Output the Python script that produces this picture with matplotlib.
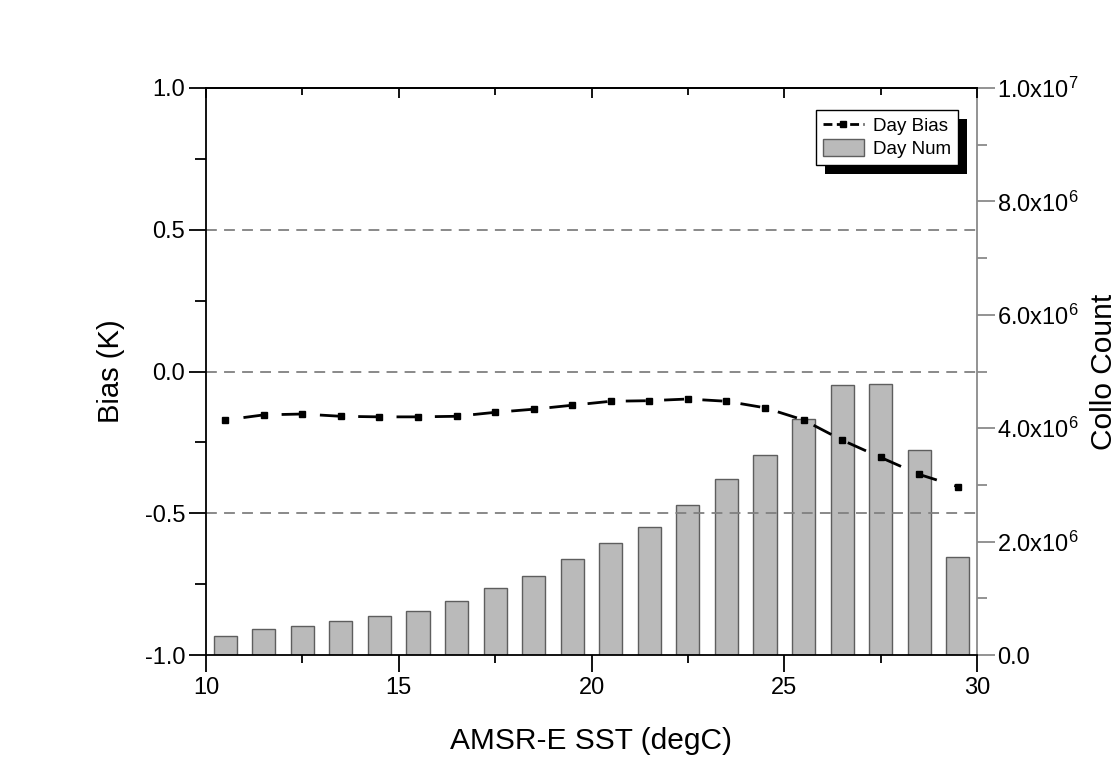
import matplotlib
matplotlib.use('Agg')
import matplotlib.pyplot as plt
from matplotlib.ticker import MultipleLocator, FuncFormatter
from matplotlib.patches import Rectangle
from matplotlib.lines import Line2D

# ---- data ----
sst = [10.5, 11.5, 12.5, 13.5, 14.5, 15.5, 16.5, 17.5, 18.5, 19.5,
       20.5, 21.5, 22.5, 23.5, 24.5, 25.5, 26.5, 27.5, 28.5, 29.5]
day_bias = [-0.171, -0.153, -0.150, -0.158, -0.160, -0.160, -0.158, -0.144, -0.133, -0.119,
            -0.105, -0.103, -0.097, -0.105, -0.128, -0.171, -0.242, -0.303, -0.363, -0.406]
day_num = [0.34e6, 0.45e6, 0.52e6, 0.60e6, 0.69e6, 0.78e6, 0.96e6, 1.18e6, 1.40e6, 1.69e6,
           1.98e6, 2.26e6, 2.64e6, 3.10e6, 3.52e6, 4.16e6, 4.76e6, 4.78e6, 3.61e6, 1.73e6]
x_ticks = [10, 15, 20, 25, 30]
bias_ticks = [-1.0, -0.5, 0.0, 0.5, 1.0]
count_ticks = [0, 2e6, 4e6, 6e6, 8e6, 1e7]
grid_levels = [0.5, 0.0, -0.5]

plt.rcParams['font.family'] = ['Liberation Sans', 'DejaVu Sans']
plt.rcParams['mathtext.fontset'] = 'custom'
plt.rcParams['mathtext.rm'] = 'Liberation Sans'
plt.rcParams['mathtext.it'] = 'Liberation Sans:italic'
plt.rcParams['mathtext.bf'] = 'Liberation Sans:bold'
plt.rcParams['axes.unicode_minus'] = False

W, H = 1117, 779
fig = plt.figure(figsize=(W / 100, H / 100), dpi=100)
ax1 = fig.add_axes([206 / W, 1 - 655 / H, (977 - 206) / W, (655 - 88) / H])
ax2 = ax1.twinx()
ax1.set_zorder(2)
ax1.patch.set_visible(False)

bars = ax2.bar(sst, day_num, width=0.6, color='#bababa', edgecolor='#5e5e5e',
               linewidth=1.0, label='Day Num', zorder=2)

for g in grid_levels:
    ax1.axhline(g, color='#808080', linestyle=(0, (6, 4)), linewidth=1.3, zorder=1)

line, = ax1.plot(sst, day_bias, color='black', linewidth=2.0,
                 linestyle=(7.2, (7.2, 6.6)), marker='s', markersize=5,
                 label='Day Bias', zorder=3)

ax1.set_xlim(10, 30)
ax1.set_ylim(-1, 1)
ax2.set_ylim(0, 1e7)

ax1.set_xticks(x_ticks)
ax1.xaxis.set_minor_locator(MultipleLocator(2.5))
ax1.set_yticks(bias_ticks)
ax1.yaxis.set_minor_locator(MultipleLocator(0.25))
ax1.yaxis.set_major_formatter(FuncFormatter(lambda v, p: f'{v:.1f}'))

ax2.set_yticks(count_ticks)
ax2.yaxis.set_minor_locator(MultipleLocator(1e6))


def count_fmt(v, p):
    if v == 0:
        return '0.0'
    e = 0
    m = v
    while abs(m) >= 10:
        m /= 10
        e += 1
    return r'$\mathregular{%.1fx10^{%d}}$' % (m, e)


ax2.yaxis.set_major_formatter(FuncFormatter(count_fmt))

for sp in ['left', 'bottom', 'top']:
    ax1.spines[sp].set_linewidth(1.3)
    ax1.spines[sp].set_color('black')
ax1.spines['right'].set_visible(False)
for sp in ['left', 'bottom', 'top']:
    ax2.spines[sp].set_visible(False)
ax2.spines['right'].set_color('#8a8a8a')
ax2.spines['right'].set_linewidth(1.3)

ax1.tick_params(axis='both', which='major', direction='out', length=12, width=1.3,
                labelsize=17, pad=3)
ax1.tick_params(axis='y', which='minor', direction='out', length=8, width=1.3)
ax1.tick_params(axis='x', which='minor', direction='out', length=6, width=1.3)
ax1.tick_params(axis='x', pad=4)
ax2.tick_params(axis='y', which='major', direction='out', length=13, width=1.3,
                color='#8a8a8a', labelsize=17, labelcolor='black', pad=1.5)
ax2.tick_params(axis='y', which='minor', direction='out', length=7, width=1.3,
                color='#8a8a8a')

secx = ax1.secondary_xaxis('top')
secx.set_xticks(x_ticks)
secx.xaxis.set_minor_locator(MultipleLocator(2.5))
secx.tick_params(which='major', direction='in', length=7, width=1.3, labeltop=False)
secx.tick_params(which='minor', direction='in', length=5, width=1.3)
secx.spines['top'].set_linewidth(1.3)

ax1.set_xlabel('AMSR-E SST (degC)', fontsize=21.5, labelpad=20)
ax1.set_ylabel('Bias (K)', fontsize=21, labelpad=14.5)
ax2.set_ylabel('Collo Count', fontsize=21.5, labelpad=8)

line_handle = Line2D([], [], color='black', linewidth=2.0, linestyle=(0, (3.2, 1.6)),
                     marker='s', markersize=5)

leg = ax1.legend(handles=[line_handle, bars], labels=['Day Bias', 'Day Num'],
                 loc='upper right', bbox_to_anchor=(958 / W, 1 - 110 / H),
                 bbox_transform=fig.transFigure, borderaxespad=0,
                 fancybox=False, edgecolor='black', framealpha=1,
                 fontsize=13.5, handlelength=2.2, handleheight=1.0,
                 borderpad=0.35, labelspacing=0.2, handletextpad=0.5)
leg.get_frame().set_linewidth(1.0)
leg.set_zorder(10)

fig.canvas.draw()
bb = leg.get_window_extent()
shadow = Rectangle(((bb.x0 + 9) / W, (bb.y0 - 9) / H), bb.width / W, bb.height / H,
                   transform=fig.transFigure, facecolor='black', edgecolor='none',
                   zorder=9, clip_on=False)
ax1.add_artist(shadow)

fig.savefig('out.png', dpi=100, facecolor='white')
